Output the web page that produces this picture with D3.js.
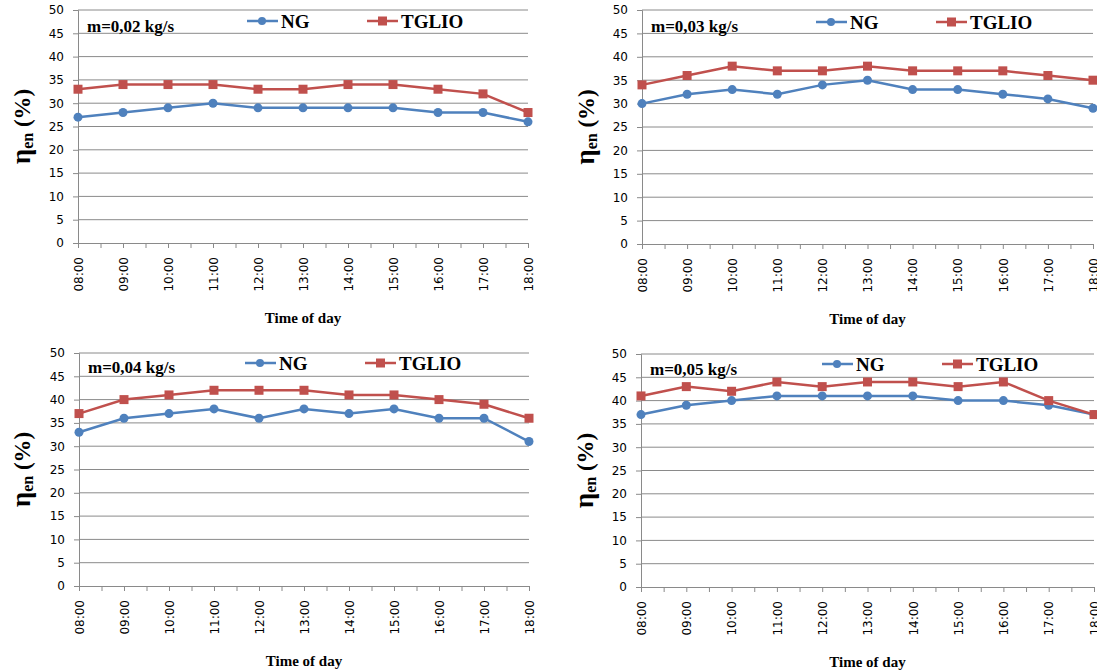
<!DOCTYPE html>
<html>
<head>
<meta charset="utf-8">
<script src="https://cdn.jsdelivr.net/npm/d3@7"></script>
<style>
  body { margin: 0; background: #fff; }
  svg { display: block; }
  .grid line { stroke: #8a8a8a; stroke-width: 1; }
  .tick text { font-family: "DejaVu Sans", Verdana, sans-serif; font-size: 12px; fill: #000; }
  .lbl { font-family: "Liberation Serif", "Times New Roman", serif; font-weight: bold; fill: #000; }
</style>
</head>
<body>
<div id="chart"></div>
<script>
const times = ["08:00", "09:00", "10:00", "11:00", "12:00", "13:00", "14:00", "15:00", "16:00", "17:00", "18:00"];
const yTicks = [0, 5, 10, 15, 20, 25, 30, 35, 40, 45, 50];
const seriesNames = ["NG", "TGLIO"];
const flowLabels = ["m=0,02 kg/s", "m=0,03 kg/s", "m=0,04 kg/s", "m=0,05 kg/s"];

const ng02 = [27, 28, 29, 30, 29, 29, 29, 29, 28, 28, 26];
const tglio02 = [33, 34, 34, 34, 33, 33, 34, 34, 33, 32, 28];
const ng03 = [30, 32, 33, 32, 34, 35, 33, 33, 32, 31, 29];
const tglio03 = [34, 36, 38, 37, 37, 38, 37, 37, 37, 36, 35];
const ng04 = [33, 36, 37, 38, 36, 38, 37, 38, 36, 36, 31];
const tglio04 = [37, 40, 41, 42, 42, 42, 41, 41, 40, 39, 36];
const ng05 = [37, 39, 40, 41, 41, 41, 41, 40, 40, 39, 37];
const tglio05 = [41, 43, 42, 44, 43, 44, 44, 43, 44, 40, 37];

const colors = {NG: "#4f81bd", TGLIO: "#c0504d"};

// plot box of each panel, plus legend / label nudges
const panels = [
  {x0: 78, x1: 528, y0: 10, y1: 243, leg: 169, legY: 11, mY: 22, yl: 22, ng: ng02, tg: tglio02, m: flowLabels[0]},
  {x0: 642, x1: 1093, y0: 10, y1: 244, leg: 174, legY: 12, mY: 22, yl: 586, ng: ng03, tg: tglio03, m: flowLabels[1]},
  {x0: 79, x1: 529, y0: 353, y1: 586, leg: 166, legY: 10, mY: 20, yl: 22, ng: ng04, tg: tglio04, m: flowLabels[2]},
  {x0: 641, x1: 1094, y0: 354, y1: 587, leg: 181, legY: 10, mY: 21, yl: 585, ng: ng05, tg: tglio05, m: flowLabels[3]}
];

const svg = d3.select("#chart").append("svg")
    .attr("width", 1097)
    .attr("height", 672);

function minutes(t) {
  const p = t.split(":");
  return +p[0] * 60 + +p[1];
}

function drawPanel(p) {
  const x = d3.scaleLinear().domain([minutes(times[0]), minutes(times[times.length - 1])]).range([p.x0, p.x1]);
  const y = d3.scaleLinear().domain([0, 50]).range([p.y1, p.y0]);
  const g = svg.append("g");

  // horizontal gridlines
  g.append("g").attr("class", "grid")
    .selectAll("line").data(yTicks.slice(1)).join("line")
      .attr("x1", p.x0).attr("x2", p.x1)
      .attr("y1", d => y(d)).attr("y2", d => y(d));

  // y axis
  const ya = g.append("g")
      .attr("transform", "translate(" + p.x0 + ",0)")
      .call(d3.axisLeft(y).tickValues(yTicks).tickSize(5).tickPadding(9));
  ya.selectAll("path, line").attr("stroke", "#8a8a8a");

  // x axis, ticks every half hour
  const halfHours = d3.range(minutes(times[0]), minutes(times[times.length - 1]) + 1, 30);
  const xa = g.append("g")
      .attr("transform", "translate(0," + p.y1 + ")")
      .call(d3.axisBottom(x).tickValues(halfHours).tickSize(5).tickSizeOuter(0)
        .tickFormat(d => d % 60 === 0 ? times[(d - minutes(times[0])) / 60] : ""));
  xa.selectAll("path, line").attr("stroke", "#8a8a8a");
  xa.selectAll("text")
      .attr("transform", "rotate(-90)")
      .attr("text-anchor", "end")
      .attr("x", -14)
      .attr("y", 0)
      .attr("dy", "0.35em");

  // series
  const line = d3.line().x((d, i) => x(minutes(times[i]))).y(d => y(d));
  [["NG", p.ng], ["TGLIO", p.tg]].forEach(([name, vals]) => {
    g.append("path").datum(vals)
      .attr("fill", "none")
      .attr("stroke", colors[name])
      .attr("stroke-width", 2.5)
      .attr("d", line);
  });
  g.selectAll(".ngpt").data(p.ng).join("circle")
      .attr("cx", (d, i) => x(minutes(times[i])))
      .attr("cy", d => y(d))
      .attr("r", 4.5)
      .attr("fill", colors.NG);
  g.selectAll(".tgpt").data(p.tg).join("rect")
      .attr("x", (d, i) => x(minutes(times[i])) - 4.5)
      .attr("y", d => y(d) - 4.5)
      .attr("width", 9).attr("height", 9)
      .attr("fill", colors.TGLIO);

  // legend
  const ly = p.y0 + p.legY;
  seriesNames.forEach((name, k) => {
    const lx = p.x0 + p.leg + k * 120;
    g.append("line")
      .attr("x1", lx).attr("x2", lx + 31)
      .attr("y1", ly).attr("y2", ly)
      .attr("stroke", colors[name]).attr("stroke-width", 2.5);
    if (name === "NG") {
      g.append("circle").attr("cx", lx + 15).attr("cy", ly).attr("r", 4).attr("fill", colors[name]);
    } else {
      g.append("rect").attr("x", lx + 11).attr("y", ly - 4.5).attr("width", 9).attr("height", 9).attr("fill", colors[name]);
    }
    g.append("text").attr("class", "lbl")
      .attr("x", lx + 34).attr("y", ly)
      .attr("dy", "0.35em")
      .style("font-size", "19px")
      .text(name);
  });

  // flow label
  g.append("text").attr("class", "lbl")
    .attr("x", p.x0 + 9).attr("y", p.y0 + p.mY)
    .style("font-size", "17px")
    .text(p.m);

  // x title
  g.append("text").attr("class", "lbl")
    .attr("x", (p.x0 + p.x1) / 2).attr("y", p.y1 + 80)
    .attr("text-anchor", "middle")
    .style("font-size", "15px")
    .text("Time of day");

  // y title
  const yt = g.append("text").attr("class", "lbl")
    .attr("transform", "translate(" + p.yl + "," + (p.y0 + p.y1) / 2 + ") rotate(-90)")
    .attr("text-anchor", "middle")
    .attr("dy", "0.35em")
    .style("font-size", "23px");
  yt.append("tspan").style("font-size", "27px").text("η");
  yt.append("tspan").attr("dy", 3).style("font-size", "16px").text("en");
  yt.append("tspan").attr("dy", -3).text(" (%)");
}

panels.forEach(drawPanel);
</script>
</body>
</html>
